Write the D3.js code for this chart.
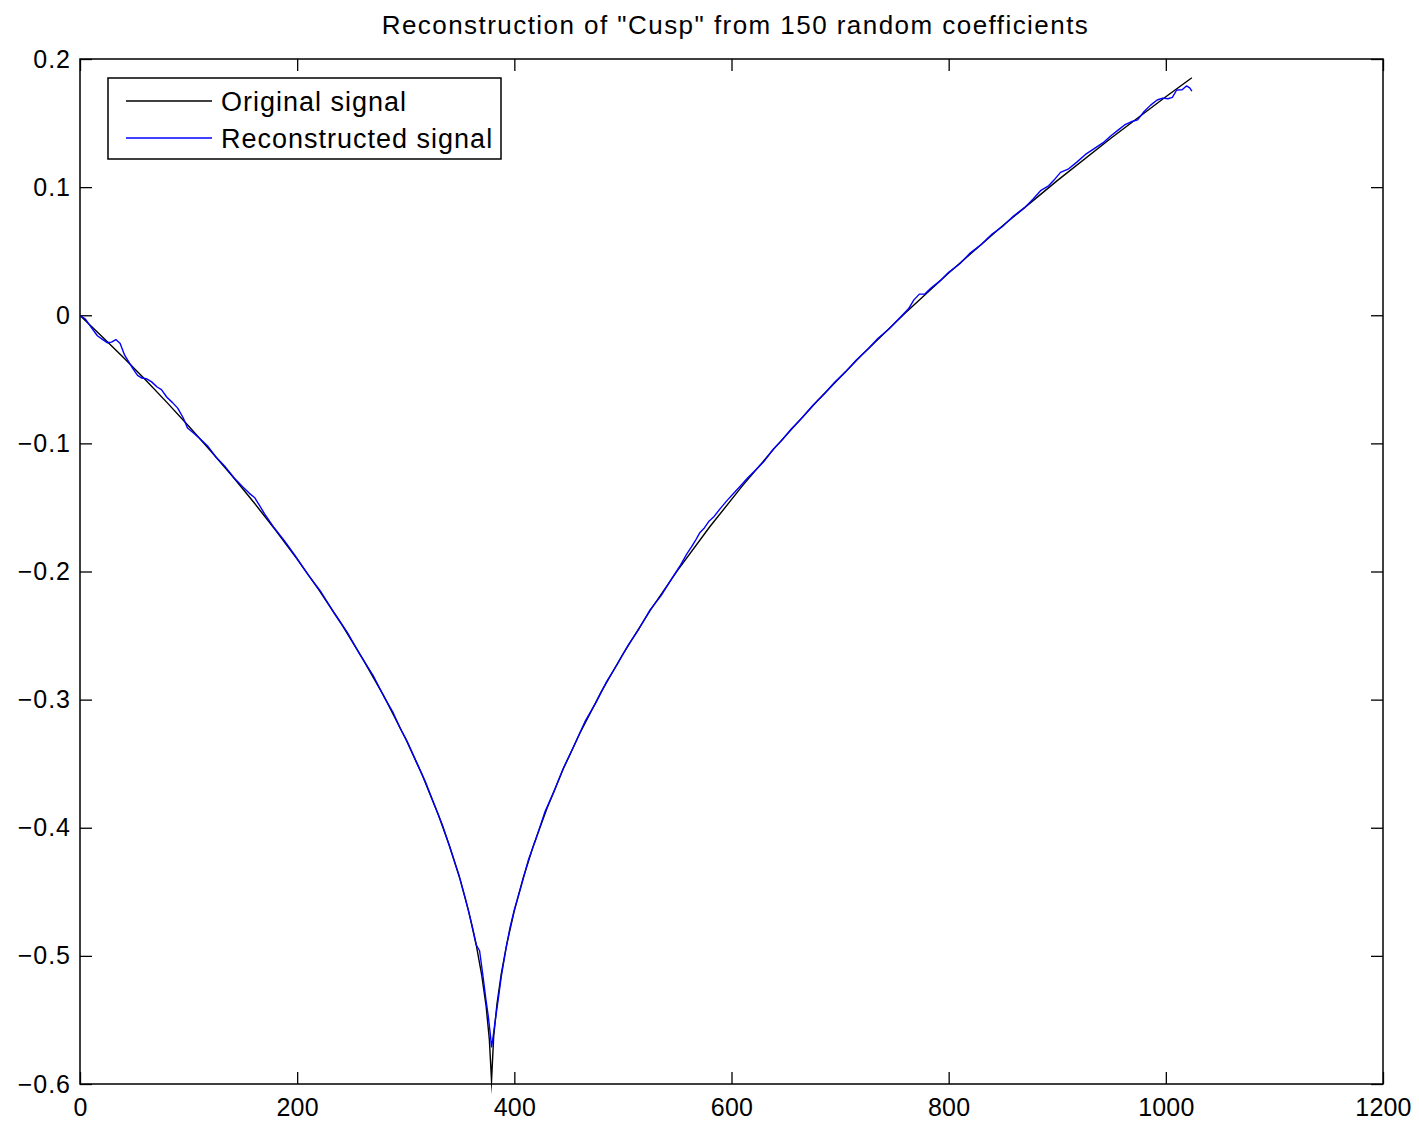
<!DOCTYPE html>
<html>
<head>
<meta charset="utf-8">
<script src="https://cdn.jsdelivr.net/npm/d3@7"></script>
<style>
  html, body { margin: 0; padding: 0; background: #fff; }
  svg { display: block; }
  text { font-family: "Liberation Sans", Arial, Helvetica, sans-serif; fill: #000; }
</style>
</head>
<body>
<svg id="chart" width="1419" height="1126"></svg>
<script>
// ---------- data ----------
const titleText = 'Reconstruction of "Cusp" from 150 random coefficients';
const seriesNames = ["Original signal", "Reconstructed signal"];
const xTicks = [0, 200, 400, 600, 800, 1000, 1200];
const yTicks = [-0.6, -0.5, -0.4, -0.3, -0.2, -0.1, 0, 0.1, 0.2];

const origX = [1, 20, 40, 60, 80, 100, 120, 140, 160, 180, 200, 220, 240, 260, 280, 300, 315, 330, 340, 350, 358, 365, 370, 374, 377, 379, 381, 384, 388, 393, 400, 408, 418, 430, 445, 460, 480, 500, 525, 550, 580, 610, 640, 680, 720, 760, 800, 850, 900, 950, 1000, 1024];
const origY = [-0.001, -0.0163, -0.0330, -0.0502, -0.0680, -0.0864, -0.1055, -0.1253, -0.1460, -0.1676, -0.1903, -0.2144, -0.2400, -0.2676, -0.2975, -0.3307, -0.3585, -0.3898, -0.4134, -0.4403, -0.4655, -0.4919, -0.5152, -0.5392, -0.5654, -0.5975, -0.5628, -0.5376, -0.5139, -0.4909, -0.4647, -0.4396, -0.4128, -0.3849, -0.3542, -0.3268, -0.2940, -0.2644, -0.2305, -0.1995, -0.1651, -0.1332, -0.1033, -0.0660, -0.0311, 0.0018, 0.0330, 0.0700, 0.1051, 0.1385, 0.1705, 0.1854];

const recX = [0, 5, 10, 16, 21, 25, 29, 33, 37, 41, 45, 49, 53, 57, 61, 66, 71, 75, 80, 85, 90, 95, 99, 104, 110, 118, 126, 134, 142, 150, 156, 161, 165, 170, 178, 188, 198, 210, 222, 234, 246, 258, 270, 280, 288, 295, 302, 310, 318, 326, 334, 342, 349, 355, 361, 365, 368, 371, 374, 376, 378, 379, 380, 382, 385, 388, 392, 396, 400, 406, 413, 420, 428, 436, 445, 455, 465, 475, 485, 495, 505, 515, 525, 535, 545, 553, 559, 563, 567, 571, 575, 579, 584, 590, 596, 602, 608, 615, 622, 630, 638, 646, 655, 665, 675, 685, 695, 705, 715, 725, 735, 745, 755, 763, 768, 773, 778, 784, 792, 800, 810, 820, 830, 840, 850, 860, 870, 878, 885, 892, 897, 903, 910, 918, 926, 934, 942, 950, 956, 962, 968, 974, 980, 986, 992, 997, 1002, 1006, 1010, 1015, 1019, 1022, 1024];
const recY = [0.000, -0.003, -0.009, -0.016, -0.019, -0.0215, -0.021, -0.019, -0.022, -0.031, -0.0365, -0.042, -0.047, -0.049, -0.0495, -0.052, -0.056, -0.058, -0.064, -0.068, -0.0725, -0.080, -0.088, -0.0915, -0.096, -0.1025, -0.1115, -0.1185, -0.127, -0.134, -0.139, -0.1425, -0.148, -0.155, -0.165, -0.1758, -0.1875, -0.2025, -0.216, -0.2322, -0.2473, -0.2650, -0.2812, -0.2978, -0.3095, -0.3225, -0.3338, -0.3490, -0.3640, -0.3812, -0.3985, -0.4188, -0.4368, -0.4555, -0.4760, -0.4915, -0.4960, -0.5150, -0.5350, -0.547, -0.562, -0.571, -0.566, -0.553, -0.535, -0.516, -0.496, -0.478, -0.4640, -0.4465, -0.4250, -0.4085, -0.3880, -0.3728, -0.3538, -0.3360, -0.3172, -0.3025, -0.2860, -0.2722, -0.2572, -0.2445, -0.2300, -0.2190, -0.2055, -0.1950, -0.1860, -0.1810, -0.1755, -0.1695, -0.1660, -0.1610, -0.1570, -0.1505, -0.1445, -0.1390, -0.1335, -0.1268, -0.1210, -0.1140, -0.1050, -0.0980, -0.0888, -0.0800, -0.0702, -0.0618, -0.0523, -0.0442, -0.0350, -0.0270, -0.0180, -0.0108, -0.0020, 0.0050, 0.0120, 0.0165, 0.0165, 0.0215, 0.0268, 0.0335, 0.0400, 0.0487, 0.0552, 0.0634, 0.0696, 0.0777, 0.0840, 0.0910, 0.0975, 0.1010, 0.1055, 0.1115, 0.1140, 0.1195, 0.1255, 0.1300, 0.1345, 0.1405, 0.1445, 0.1485, 0.1510, 0.1525, 0.1590, 0.1640, 0.1680, 0.1695, 0.1690, 0.1700, 0.1758, 0.1760, 0.1790, 0.1775, 0.1750];

// ---------- layout ----------
const M = { left: 80, right: 1383, top: 59, bottom: 1084 };
const svg = d3.select("#chart");

const x = d3.scaleLinear().domain([0, 1200]).range([M.left, M.right]);
const y = d3.scaleLinear().domain([-0.6, 0.2]).range([M.bottom, M.top]);

const fmtY = v => (Math.abs(v) < 1e-9 ? "0" : d3.format(".1f")(v).replace("-", "\u2212"));
const tickLen = 12;

// axes (ticks inward on all sides)
const axB = d3.axisBottom(x).tickValues(xTicks).tickSizeInner(-tickLen).tickSizeOuter(0).tickPadding(14).tickFormat(d3.format("d"));
const axT = d3.axisTop(x).tickValues(xTicks).tickSizeInner(-tickLen).tickSizeOuter(0).tickFormat("");
const axL = d3.axisLeft(y).tickValues(yTicks).tickSizeInner(-tickLen).tickSizeOuter(0).tickPadding(9).tickFormat(fmtY);
const axR = d3.axisRight(y).tickValues(yTicks).tickSizeInner(-tickLen).tickSizeOuter(0).tickFormat("");

function styleAxis(g) {
  g.select(".domain").remove();
  g.selectAll(".tick line").attr("stroke", "#000").attr("stroke-width", 1.3);
  g.selectAll("text").style("font-size", "25px").attr("fill", "#000");
}

svg.append("g").attr("transform", `translate(0,${M.bottom})`).call(axB).call(styleAxis)
  .selectAll("text").attr("dy", "0.71em").style("letter-spacing", "0.2px");
svg.append("g").attr("transform", `translate(0,${M.top})`).call(axT).call(styleAxis);
svg.append("g").attr("transform", `translate(${M.left},0)`).call(axL).call(styleAxis)
  .selectAll("text").style("letter-spacing", "1px");
svg.append("g").attr("transform", `translate(${M.right},0)`).call(axR).call(styleAxis);

// lines
const line = d3.line().x(d => x(d[0])).y(d => y(d[1]));
const orig = origX.map((v, i) => [v, origY[i]]);
const rec = recX.map((v, i) => [v, recY[i]]);

const plot = svg.append("g");
plot.append("path").datum(orig).attr("d", line)
  .attr("fill", "none").attr("stroke", "#000").attr("stroke-width", 1.4).attr("stroke-linejoin", "miter").attr("stroke-miterlimit", 20);
plot.append("path").datum(rec).attr("d", line)
  .attr("fill", "none").attr("stroke", "#0000ff").attr("stroke-width", 1.4).attr("stroke-linejoin", "round");

// frame
svg.append("rect").attr("x", M.left).attr("y", M.top)
  .attr("width", M.right - M.left).attr("height", M.bottom - M.top)
  .attr("fill", "none").attr("stroke", "#000").attr("stroke-width", 1.5);

// title
svg.append("text").attr("x", (M.left + M.right) / 2 + 4).attr("y", 34)
  .attr("text-anchor", "middle").style("font-size", "26px").style("letter-spacing", "1.45px")
  .text(titleText);

// legend
const lg = svg.append("g");
lg.append("rect").attr("x", 108).attr("y", 78).attr("width", 393).attr("height", 81)
  .attr("fill", "#fff").attr("stroke", "#000").attr("stroke-width", 1.5);
const legColors = ["#000", "#0000ff"];
seriesNames.forEach((name, i) => {
  const yy = 101 + i * 37;
  lg.append("line").attr("x1", 126).attr("x2", 212).attr("y1", yy).attr("y2", yy)
    .attr("stroke", legColors[i]).attr("stroke-width", 1.4);
  lg.append("text").attr("x", 221).attr("y", yy).attr("dy", "0.36em")
    .style("font-size", "27px").style("letter-spacing", "1.0px").text(name);
});
</script>
</body>
</html>
